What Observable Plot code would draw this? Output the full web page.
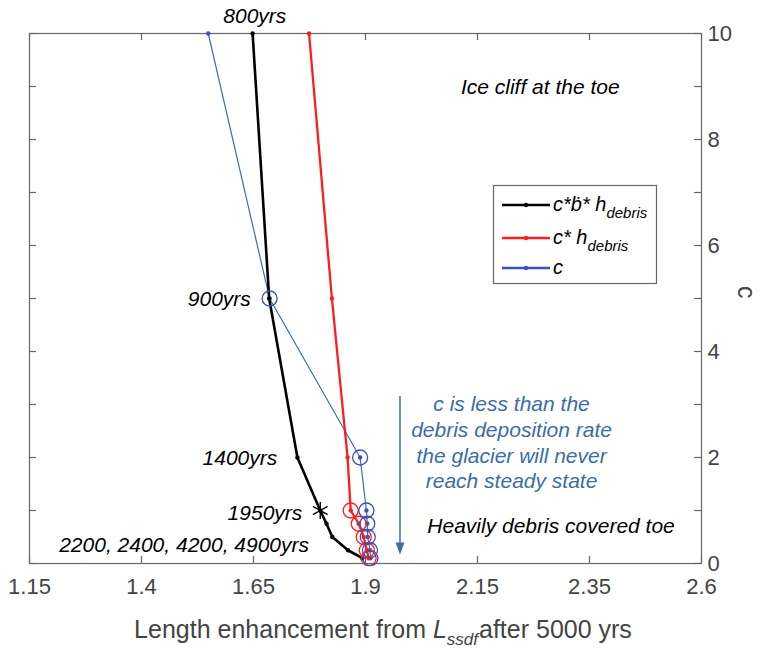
<!DOCTYPE html>
<html>
<head>
<meta charset="utf-8">
<script src="https://cdn.jsdelivr.net/npm/d3@7"></script>
<script src="https://cdn.jsdelivr.net/npm/@observablehq/plot@0.6"></script>
<style>
  html, body { margin: 0; padding: 0; background: #fff; }
</style>
</head>
<body>
<div id="chart"></div>
<script>
// ---- data ----
const cVals = [10, 5, 2, 1, 0.75, 0.5, 0.25, 0.1];
const lenBlack = [1.648, 1.685, 1.748, 1.799, 1.813, 1.826, 1.861, 1.893]; // c*b*h_debris
const lenRed   = [1.774, 1.825, 1.860, 1.867, 1.885, 1.896, 1.903, 1.907]; // c*h_debris
const lenBlue  = [1.549, 1.686, 1.888, 1.902, 1.904, 1.905, 1.910, 1.911]; // c
const blueCircleIdx = [1, 2, 3, 4, 5, 6, 7];
const redCircleIdx = [3, 4, 5, 6, 7];
const starIdx = [3];

const xTickLabels = ["1.15", "1.4", "1.65", "1.9", "2.15", "2.35", "2.6"];
const xTickPos = [1.15, 1.4, 1.65, 1.9, 2.15, 2.4, 2.65];
const yTickLabels = [0, 2, 4, 6, 8, 10];
const yMinorTicks = [0, 1, 2, 3, 4, 5, 6, 7, 8, 9, 10];

const topLabel = [{text: "800yrs", x: 1.653, y: 10.32}];
const yearLabels = [
  {text: "900yrs", x: 1.644, y: 4.98},
  {text: "1400yrs", x: 1.703, y: 1.98},
  {text: "1950yrs", x: 1.759, y: 0.94},
  {text: "2200, 2400, 4200, 4900yrs", x: 1.774, y: 0.34}
];
const noteLabels = [
  {text: "Ice cliff at the toe", x: 2.113, y: 8.99},
  {text: "Heavily debris covered toe", x: 2.038, y: 0.70}
];
const blueNote = {text: "c is less than the\ndebris deposition rate\nthe glacier will never\nreach steady state", x: 2.226, y: 2.30};
const arrowData = {x: 1.977, y1: 3.15, y2: 0.17};

// ---- build ----
const black = "#000000", red = "#ff1c1c", blueLine = "#3a6fb3", blueMark = "#3f51b5", noteBlue = "#3a6ea5";
const axisGray = "#666666", textGray = "#444444";
const font = "'Liberation Sans', Arial, Helvetica, sans-serif";

const mk = (xs) => cVals.map((c, i) => ({x: xs[i], y: c}));
const dBlack = mk(lenBlack), dRed = mk(lenRed), dBlue = mk(lenBlue);

const downTriangle = {
  draw(ctx) { ctx.moveTo(-4.5, -12); ctx.lineTo(4.5, -12); ctx.lineTo(0, 0); ctx.closePath(); }
};

const plot = Plot.plot({
  width: 762,
  height: 648,
  marginLeft: 29,
  marginRight: 61,
  marginTop: 33,
  marginBottom: 85,
  style: {fontFamily: font, background: "#fff", overflow: "visible"},
  x: {domain: [1.15, 2.65]},
  y: {domain: [0, 10]},
  marks: [
    Plot.frame({stroke: axisGray, strokeWidth: 1.2}),
    // inward ticks
    Plot.tickX(xTickPos, {x: d => d, insetTop: 523, stroke: axisGray, strokeWidth: 1.2}),
    Plot.tickX(xTickPos, {x: d => d, insetBottom: 523, stroke: axisGray, strokeWidth: 1.2}),
    Plot.tickY(yMinorTicks, {y: d => d, insetRight: 665, stroke: axisGray, strokeWidth: 1.2}),
    Plot.tickY(yMinorTicks, {y: d => d, insetLeft: 665, stroke: axisGray, strokeWidth: 1.2}),
    Plot.axisX({ticks: xTickPos, tickSize: 0, tickPadding: 15, fontSize: 22, color: textGray, label: null,
      tickFormat: d => xTickLabels[xTickPos.findIndex(p => Math.abs(p - d) < 1e-9)]}),
    Plot.axisY({anchor: "right", ticks: yTickLabels, tickSize: 0, tickPadding: 6, fontSize: 22, color: textGray, label: null}),
    Plot.text(["c"], {frameAnchor: "right", dx: 44, rotate: 90, fontSize: 25, fill: textGray}),
    // lines
    Plot.line(dBlue, {x: "x", y: "y", stroke: blueLine, strokeWidth: 1.2}),
    Plot.line(dRed, {x: "x", y: "y", stroke: red, strokeWidth: 2.3}),
    Plot.line(dBlack, {x: "x", y: "y", stroke: black, strokeWidth: 2.6}),
    // point markers
    Plot.dot(dBlue, {x: "x", y: "y", r: 2.2, fill: blueMark}),
    Plot.dot(dRed, {x: "x", y: "y", r: 2.2, fill: red}),
    Plot.dot(dBlack, {x: "x", y: "y", r: 2.2, fill: black}),
    Plot.dot(redCircleIdx.map(i => dRed[i]), {x: "x", y: "y", r: 7.5, stroke: red, strokeWidth: 1.3, fill: "none"}),
    Plot.dot(blueCircleIdx.map(i => dBlue[i]), {x: "x", y: "y", r: 7.5, stroke: blueMark, strokeWidth: 1.3, fill: "none"}),
    Plot.dot(starIdx.map(i => dBlack[i]), {x: "x", y: "y", r: 8, symbol: "asterisk", stroke: black, strokeWidth: 1.4}),
    // arrow
    Plot.ruleX([arrowData], {x: "x", y1: "y1", y2: d => d.y2 + 0.15, stroke: noteBlue, strokeWidth: 1.5}),
    Plot.dot([arrowData], {x: "x", y: "y2", symbol: downTriangle, r: 5, fill: noteBlue, stroke: "none"}),
    // annotations
    Plot.text(topLabel, {x: "x", y: "y", text: "text", textAnchor: "middle", fontSize: 21, fontStyle: "italic", fill: black}),
    Plot.text(yearLabels, {x: "x", y: "y", text: "text", textAnchor: "end", fontSize: 21, fontStyle: "italic", fill: black}),
    Plot.text(noteLabels, {x: "x", y: "y", text: "text", textAnchor: "start", fontSize: 21, fontStyle: "italic", fill: black}),
    Plot.text([blueNote], {x: "x", y: "y", text: "text", textAnchor: "middle", lineHeight: 1.22, fontSize: 21, fontStyle: "italic", fill: noteBlue})
  ]
});

document.getElementById("chart").appendChild(plot);

// ---- x-axis label with subscript ----
const svg = d3.select(plot);
const xl = svg.append("text")
  .attr("x", 383).attr("y", 638)
  .attr("text-anchor", "middle")
  .attr("font-family", font).attr("font-size", 25).attr("fill", textGray);
xl.append("tspan").text("Length enhancement from ");
xl.append("tspan").attr("font-style", "italic").text("L");
xl.append("tspan").attr("font-style", "italic").attr("font-size", 17).attr("dy", 7).text("ssdf");
xl.append("tspan").attr("dy", -7).attr("dx", 1).text("after 5000 yrs");

// ---- legend ----
const legendItems = [
  {color: black, main: "c*ḃ* h", sub: "debris", w: 2.6},
  {color: red, main: "c* h", sub: "debris", w: 2.3},
  {color: blueMark, main: "c", sub: "", w: 2.3}
];
const lg = svg.append("g").attr("font-family", font).attr("text-anchor", "start");
lg.append("rect").attr("x", 493.5).attr("y", 185.5).attr("width", 163).attr("height", 98)
  .attr("fill", "#fff").attr("stroke", axisGray).attr("stroke-width", 1.2);
const rowY = [205, 238, 268];
legendItems.forEach((it, i) => {
  const y = rowY[i];
  lg.append("line").attr("x1", 502).attr("x2", 550).attr("y1", y).attr("y2", y)
    .attr("stroke", it.color).attr("stroke-width", it.w);
  lg.append("circle").attr("cx", 526).attr("cy", y).attr("r", 2.2).attr("fill", it.color);
  const t = lg.append("text").attr("x", 553).attr("y", y + 6).attr("font-size", 20)
    .attr("text-anchor", "start").attr("font-style", "italic").attr("fill", "#000");
  t.append("tspan").text(it.main);
  if (it.sub) t.append("tspan").attr("font-size", 15).attr("dy", 7).text(it.sub);
});
</script>
</body>
</html>
